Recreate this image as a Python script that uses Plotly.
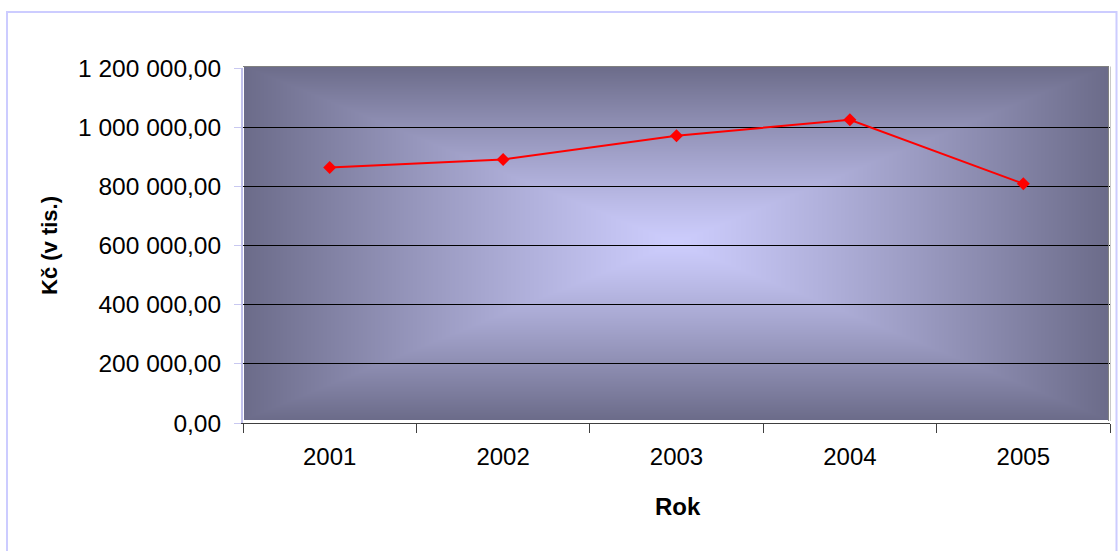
import base64
import struct
import zlib

import numpy as np
import plotly.graph_objects as go

# Yearly totals (CZK, thousands)
years = ["2001", "2002", "2003", "2004", "2005"]
values = [864000, 891000, 971000, 1025000, 809000]

y_ticks = [0, 200000, 400000, 600000, 800000, 1000000, 1200000]
y_tick_labels = ["0,00", "200 000,00", "400 000,00", "600 000,00",
                 "800 000,00", "1 000 000,00", "1 200 000,00"]

# Figure size and plot-area edges in pixels
W, H = 1118, 551
L, R, T, B = 243, 1110, 68, 423


def px(x):
    return (x - L) / (R - L)


def py(y):
    return (B - y) / (B - T)


def png_data_uri(rgb):
    h, w, _ = rgb.shape
    raw = b"".join(b"\x00" + rgb[i].tobytes() for i in range(h))

    def chunk(tag, data):
        body = struct.pack(">I", len(data)) + tag + data
        return body + struct.pack(">I", zlib.crc32(tag + data) & 0xFFFFFFFF)

    png = (b"\x89PNG\r\n\x1a\n"
           + chunk(b"IHDR", struct.pack(">IIBBBBB", w, h, 8, 2, 0, 0, 0))
           + chunk(b"IDAT", zlib.compress(raw, 9))
           + chunk(b"IEND", b""))
    return "data:image/png;base64," + base64.b64encode(png).decode()


# Rectangular "from centre" gradient for the plot-area fill
gx0, gx1, gy0, gy1 = 244, 1108, 66, 420
gw, gh = gx1 - gx0, gy1 - gy0
xx = np.abs(np.arange(gw) - (gw - 1) / 2) / ((gw - 1) / 2)
yy = np.abs(np.arange(gh) - (gh - 1) / 2) / ((gh - 1) / 2)
t = np.maximum(xx[None, :], yy[:, None]) ** 1.15
centre = np.array([205, 205, 253], dtype=float)
edge = np.array([108, 108, 138], dtype=float)
grad = centre[None, None, :] + (edge - centre)[None, None, :] * t[:, :, None]
grad_uri = png_data_uri(np.clip(grad, 0, 255).astype(np.uint8))

fig = go.Figure()
fig.add_trace(go.Scatter(
    x=years, y=values, mode="lines+markers",
    line=dict(color="#ff0000", width=2),
    marker=dict(symbol="diamond", size=10, color="#ff0000"),
    hoverinfo="x+y", showlegend=False,
))

font_family = "Liberation Sans, Arial, sans-serif"

fig.update_layout(
    width=W, height=H,
    margin=dict(l=L, r=W - R, t=T, b=H - B, pad=0),
    paper_bgcolor="white",
    plot_bgcolor="rgba(0,0,0,0)",
    font=dict(family=font_family, color="black"),
    images=[dict(
        source=grad_uri, xref="paper", yref="paper",
        x=px(gx0), y=py(gy0), sizex=gw / (R - L), sizey=gh / (B - T),
        xanchor="left", yanchor="top", sizing="stretch", layer="below",
    )],
    shapes=[
        # outer chart frame
        dict(type="rect", xref="paper", yref="paper",
             x0=px(7), x1=px(1116.5), y0=py(600), y1=py(12),
             line=dict(color="#ccccff", width=2), layer="below"),
        # plot-area border, top and right
        dict(type="line", xref="paper", yref="paper",
             x0=px(243), x1=px(1109), y0=py(66.5), y1=py(66.5),
             line=dict(color="#808080", width=1), layer="above"),
        dict(type="line", xref="paper", yref="paper",
             x0=px(1108.5), x1=px(1108.5), y0=py(66.5), y1=py(421),
             line=dict(color="#808080", width=1), layer="above"),
        dict(type="line", xref="paper", yref="paper",
             x0=px(1110.5), x1=px(1110.5), y0=py(66.5), y1=py(421),
             line=dict(color="#c8c8c8", width=1), layer="above"),
    ],
    annotations=[
        dict(text="Rok", xref="paper", yref="paper", x=px(678), y=py(507),
             xanchor="center", yanchor="middle", showarrow=False,
             font=dict(size=24, weight="bold", family=font_family)),
        dict(text="Kč (v tis.)", xref="paper", yref="paper", x=px(49), y=py(246),
             xanchor="center", yanchor="middle", showarrow=False, textangle=-90,
             font=dict(size=22, weight="bold", family=font_family)),
    ],
)

fig.update_xaxes(
    type="category", range=[-0.5, 4.5], tickson="boundaries",
    ticks="outside", ticklen=9, tickcolor="#404040", tickwidth=1,
    showline=True, linecolor="#404040", linewidth=1,
    showgrid=False, zeroline=False,
    tickfont=dict(size=24), ticklabelstandoff=12,
)
fig.update_yaxes(
    range=[0, 1200000], tickvals=y_ticks, ticktext=y_tick_labels,
    ticks="outside", ticklen=7, tickcolor="#c8c8f0", tickwidth=1,
    showline=True, linecolor="#c0c0ec", linewidth=2,
    showgrid=True, gridcolor="black", gridwidth=1, zeroline=False,
    tickfont=dict(size=24.5), ticklabelstandoff=8,
)

fig.write_html("out.html")
